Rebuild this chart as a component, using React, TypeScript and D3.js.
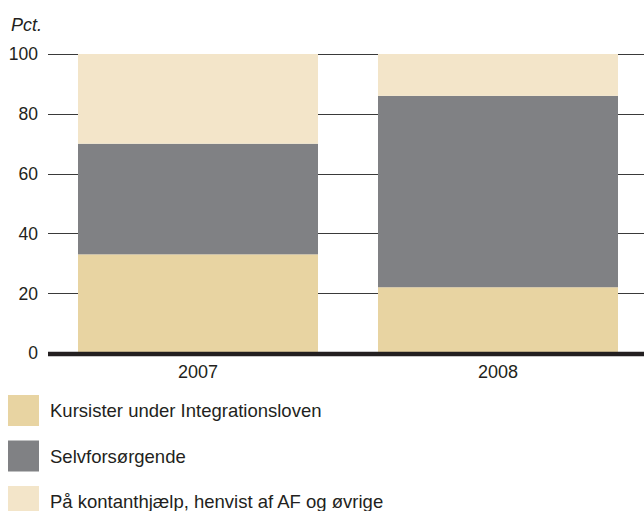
// @ts-nocheck
import React, { useEffect, useRef } from "react";
import * as d3 from "d3";

const years = ["2007", "2008"];
const seriesNames = [
  "Kursister under Integrationsloven",
  "Selvforsørgende",
  "På kontanthjælp, henvist af AF og øvrige",
];
const kursister = [33, 22];
const selvforsorgende = [37, 64];
const kontanthjaelp = [30, 14];
const yTicks = [0, 20, 40, 60, 80, 100];
const colors = ["#e8d4a2", "#808184", "#f3e5c9"];

const width = 644;
const height = 511;
const font = "'Liberation Sans', Arial, Helvetica, sans-serif";

function drawChart(node) {
  const svg = d3.select(node);
  svg.selectAll("*").remove();

  const rows = years.map((y, i) => ({
    year: y,
    [seriesNames[0]]: kursister[i],
    [seriesNames[1]]: selvforsorgende[i],
    [seriesNames[2]]: kontanthjaelp[i],
  }));
  const stacked = d3.stack().keys(seriesNames)(rows);

  const x = d3.scaleBand(years, [48, 648]).paddingInner(0.2).paddingOuter(0.1);
  const y = d3.scaleLinear([0, 100], [353, 54]);

  // gridlines + tick labels
  const grid = svg.append("g");
  grid
    .selectAll("line")
    .data(yTicks.filter((t) => t > 0))
    .join("line")
    .attr("x1", 48)
    .attr("x2", width)
    .attr("y1", (d) => Math.round(y(d)) + 0.5)
    .attr("y2", (d) => Math.round(y(d)) + 0.5)
    .attr("stroke", "#3a3a3a")
    .attr("stroke-width", 1.2);

  grid
    .selectAll("text")
    .data(yTicks)
    .join("text")
    .attr("x", 38)
    .attr("y", (d) => y(d))
    .attr("dy", "0.36em")
    .attr("text-anchor", "end")
    .attr("font-family", font)
    .attr("font-size", 17.5)
    .attr("fill", "#231f20")
    .text((d) => d);

  svg
    .append("text")
    .attr("x", 11)
    .attr("y", 31)
    .attr("font-family", font)
    .attr("font-style", "italic")
    .attr("font-size", 18)
    .attr("fill", "#231f20")
    .text("Pct.");

  // bars
  svg
    .append("g")
    .selectAll("g")
    .data(stacked)
    .join("g")
    .attr("fill", (d, i) => colors[i])
    .selectAll("rect")
    .data((d) => d)
    .join("rect")
    .attr("x", (d) => x(d.data.year))
    .attr("width", x.bandwidth())
    .attr("y", (d) => y(d[1]))
    .attr("height", (d) => y(d[0]) - y(d[1]));

  // baseline
  svg
    .append("line")
    .attr("x1", 48)
    .attr("x2", width)
    .attr("y1", y(0) + 1)
    .attr("y2", y(0) + 1)
    .attr("stroke", "#231f20")
    .attr("stroke-width", 4.5);

  // x labels
  svg
    .append("g")
    .selectAll("text")
    .data(years)
    .join("text")
    .attr("x", (d) => x(d) + x.bandwidth() / 2)
    .attr("y", 378)
    .attr("text-anchor", "middle")
    .attr("font-family", font)
    .attr("font-size", 18)
    .attr("fill", "#231f20")
    .text((d) => d);

  // legend
  const legend = svg
    .append("g")
    .selectAll("g")
    .data(seriesNames)
    .join("g")
    .attr("transform", (d, i) => `translate(8,${395 + i * 45.5})`);
  legend
    .append("rect")
    .attr("width", 31)
    .attr("height", 31)
    .attr("fill", (d, i) => colors[i]);
  legend
    .append("text")
    .attr("x", 42)
    .attr("y", 22)
    .attr("font-family", font)
    .attr("font-size", 18.5)
    .attr("fill", "#231f20")
    .text((d) => d);
}

export default function App() {
  const ref = useRef(null);
  useEffect(() => {
    if (ref.current) drawChart(ref.current);
  }, []);
  return (
    <svg
      ref={ref}
      width={width}
      height={height}
      viewBox={`0 0 ${width} ${height}`}
      style={{ position: "absolute", left: 0, top: 0, background: "#fff" }}
    />
  );
}
